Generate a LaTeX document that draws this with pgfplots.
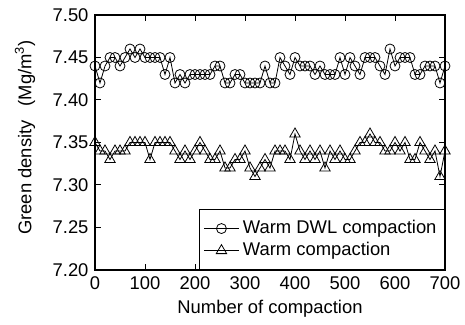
\documentclass[border=0pt]{standalone}
\usepackage{fontspec}
\setmainfont{Liberation Sans}
\usepackage{pgfplots}
\pgfplotsset{compat=1.18}
\pgfplotstableread{
x y
0 7.44
10 7.42
20 7.44
30 7.45
40 7.45
50 7.44
60 7.45
70 7.46
80 7.45
90 7.46
100 7.45
110 7.45
120 7.45
130 7.45
140 7.43
150 7.45
160 7.42
170 7.43
180 7.42
190 7.43
200 7.43
210 7.43
220 7.43
230 7.43
240 7.44
250 7.44
260 7.42
270 7.42
280 7.43
290 7.43
300 7.42
310 7.42
320 7.42
330 7.42
340 7.44
350 7.42
360 7.42
370 7.45
380 7.44
390 7.43
400 7.45
410 7.44
420 7.44
430 7.44
440 7.43
450 7.44
460 7.43
470 7.43
480 7.43
490 7.45
500 7.43
510 7.45
520 7.44
530 7.43
540 7.45
550 7.45
560 7.45
570 7.44
580 7.43
590 7.46
600 7.44
610 7.45
620 7.45
630 7.45
640 7.43
650 7.43
660 7.44
670 7.44
680 7.44
690 7.42
700 7.44
}\dwl
\pgfplotstableread{
x y
0 7.35
10 7.34
20 7.34
30 7.33
40 7.34
50 7.34
60 7.34
70 7.35
80 7.35
90 7.35
100 7.35
110 7.33
120 7.35
130 7.35
140 7.35
150 7.35
160 7.34
170 7.33
180 7.34
190 7.33
200 7.34
210 7.35
220 7.34
230 7.33
240 7.33
250 7.34
260 7.32
270 7.32
280 7.33
290 7.33
300 7.34
310 7.32
320 7.31
330 7.32
340 7.33
350 7.32
360 7.34
370 7.34
380 7.34
390 7.33
400 7.36
410 7.34
420 7.33
430 7.34
440 7.33
450 7.34
460 7.32
470 7.34
480 7.33
490 7.34
500 7.33
510 7.33
520 7.34
530 7.35
540 7.35
550 7.36
560 7.35
570 7.35
580 7.34
590 7.34
600 7.35
610 7.34
620 7.35
630 7.33
640 7.33
650 7.35
660 7.34
670 7.33
680 7.34
690 7.31
700 7.34
}\warm
\begin{document}
\fontsize{9.2}{11}\selectfont
\begin{tikzpicture}
\path[use as bounding box] (-47.5pt,-27.5pt) rectangle (185pt,135pt);
\begin{axis}[
  at={(0,0)}, anchor=south west,
  scale only axis, width=175pt, height=127.5pt,
  xmin=0, xmax=700, ymin=7.2, ymax=7.5,
  xtick={0,100,...,700},
  ytick={7.20,7.25,7.30,7.35,7.40,7.45,7.50},
  tick align=inside, major tick length=3pt,
  xtick pos=both, ytick pos=both,
  axis line style={line width=0.6pt},
  tick style={line width=0.5pt, black},
  /pgf/number format/assume math mode=true,
  yticklabel style={/pgf/number format/.cd, fixed, fixed zerofill, precision=2},
  xticklabel style={/pgf/number format/.cd, fixed, 1000 sep={}},
  ticklabel style={font=\fontsize{9.2}{11}\selectfont},
  every axis y label/.style={at={(axis description cs:-0.2,0.52)}, rotate=90, anchor=center},
  every axis x label/.style={at={(axis description cs:0.5,-0.153)}, anchor=center},
  ylabel={Green density\hspace{7pt}(Mg/m\textsuperscript{3})},
  xlabel={Number of compaction},
  label style={font=\fontsize{9.2}{11}\selectfont},
  legend style={at={(rel axis cs:1,0)}, anchor=south east, draw=black, line width=0.5pt,
    font=\fontsize{9.2}{11}\selectfont, inner xsep=2pt, inner ysep=3.9pt,
    nodes={inner ysep=1.5pt}, cells={anchor=west}},
]
\addplot[black, line width=0.4pt, mark=o, mark size=2.5pt, mark options={solid, line width=0.4pt}] table[x=x,y=y]{\dwl};
\addlegendentry{Warm DWL compaction}
\addplot[black, line width=0.4pt, mark=triangle, mark size=3pt, mark options={solid, line width=0.4pt}] table[x=x,y=y]{\warm};
\addlegendentry{Warm compaction}
\end{axis}
\end{tikzpicture}
\end{document}
